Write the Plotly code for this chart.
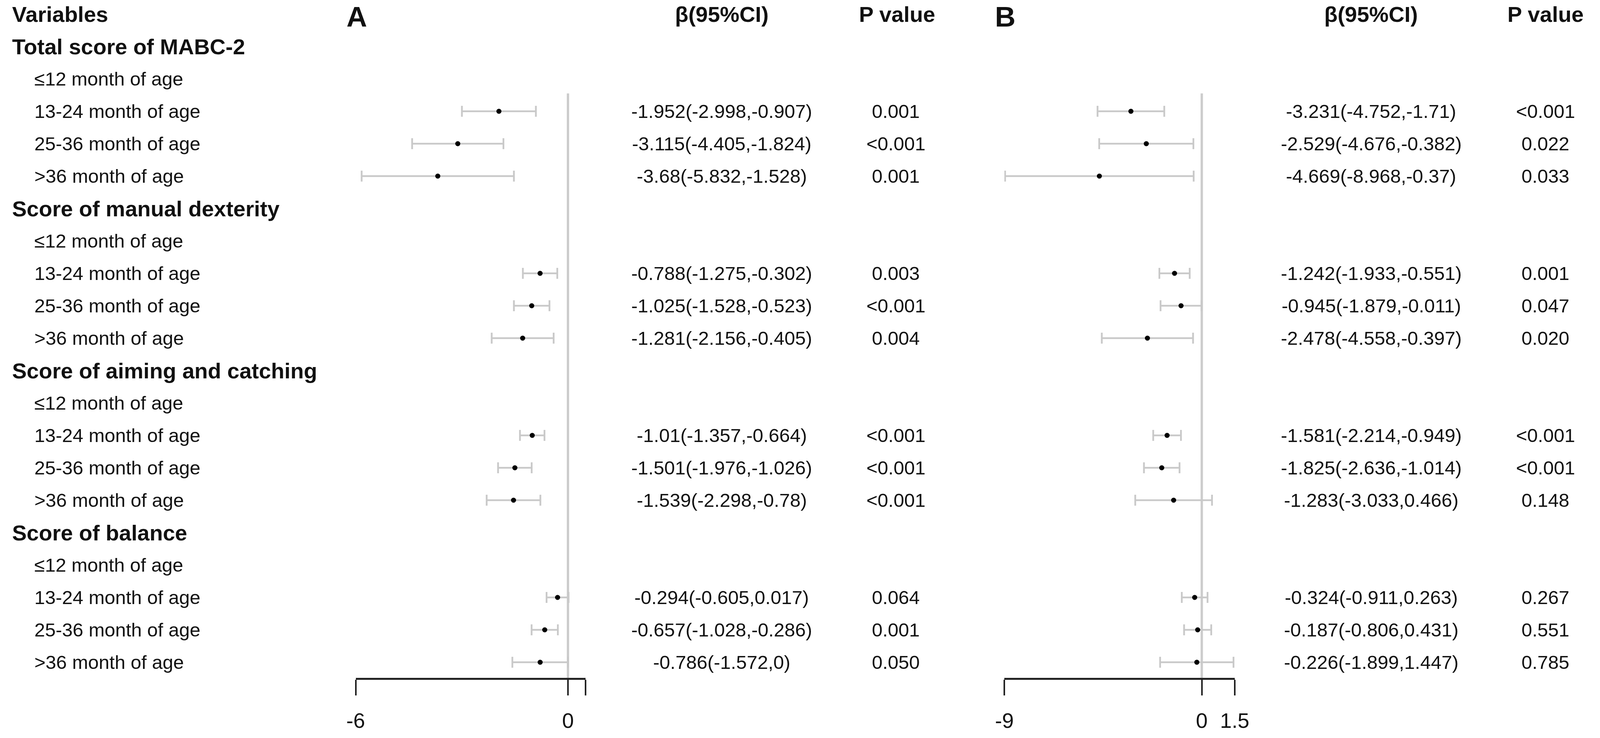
import plotly.graph_objects as go

# rows of the table
groups = ["Total score of MABC-2", "Score of manual dexterity",
          "Score of aiming and catching", "Score of balance"]
ages = ["≤12 month of age", "13-24 month of age", "25-36 month of age", ">36 month of age"]

# panel A (13-24, 25-36, >36 for each group; <=12 is the reference)
beta_a = [-1.952, -3.115, -3.68, -0.788, -1.025, -1.281, -1.01, -1.501, -1.539, -0.294, -0.657, -0.786]
low_a = [-2.998, -4.405, -5.832, -1.275, -1.528, -2.156, -1.357, -1.976, -2.298, -0.605, -1.028, -1.572]
up_a = [-0.907, -1.824, -1.528, -0.302, -0.523, -0.405, -0.664, -1.026, -0.78, 0.017, -0.286, 0]
p_a = ["0.001", "<0.001", "0.001", "0.003", "<0.001", "0.004",
       "<0.001", "<0.001", "<0.001", "0.064", "0.001", "0.050"]

# panel B
beta_b = [-3.231, -2.529, -4.669, -1.242, -0.945, -2.478, -1.581, -1.825, -1.283, -0.324, -0.187, -0.226]
low_b = [-4.752, -4.676, -8.968, -1.933, -1.879, -4.558, -2.214, -2.636, -3.033, -0.911, -0.806, -1.899]
up_b = [-1.71, -0.382, -0.37, -0.551, -0.011, -0.397, -0.949, -1.014, 0.466, 0.263, 0.431, 1.447]
p_b = ["<0.001", "0.022", "0.033", "0.001", "0.047", "0.020",
       "<0.001", "<0.001", "0.148", "0.267", "0.551", "0.785"]

ticks_a = [-6, 0, 0.5]
ticklabels_a = ["-6", "0", ""]
ticks_b = [-9, 0, 1.5]
ticklabels_b = ["-9", "0", "1.5"]

# the browser caps the page at 4096 px wide, so lay out on a 4550 grid
# horizontally (as paper fractions) and shrink the fixed pixel sizes a bit
REF_W = 4550
W, H = 4096, 1890
K = 0.93
ROW0, ROWH = 36, 83  # pixel centre of header row, row height
FONT = "Arial, Liberation Sans, sans-serif"

# row index of each data point
data_rows = []
for g in range(len(groups)):
    for j in range(1, 4):
        data_rows.append(2 + 5 * g + j)


def px(x):
    return x / REF_W


def ci_text(b, lo, hi):
    return f"{b:g}({lo:g},{hi:g})"


fig = go.Figure()

for beta, low, up, xa in [(beta_a, low_a, up_a, "x"), (beta_b, low_b, up_b, "x2")]:
    fig.add_trace(go.Scatter(
        x=beta, y=data_rows, xaxis=xa, yaxis="y",
        mode="markers",
        marker=dict(color="black", size=13),
        error_x=dict(type="data", symmetric=False,
                     array=[u - b for u, b in zip(up, beta)],
                     arrayminus=[b - l for b, l in zip(beta, low)],
                     color="#c9c9c9", thickness=4.5, width=14),
        showlegend=False, hoverinfo="skip",
    ))

# reference line at zero
for xr in ["x", "x2"]:
    fig.add_shape(type="line", xref=xr, yref="y", x0=0, x1=0, y0=2.45, y1=20.5,
                  line=dict(color="#cccccc", width=6), layer="below")

ann = []


def text(x, row, s, size=53, bold=False, anchor="center"):
    if bold:
        s = f"<b>{s}</b>"
    ann.append(dict(x=px(x), y=row, xref="paper", yref="y", text=s, showarrow=False,
                    xanchor=anchor, yanchor="middle",
                    font=dict(family=FONT, size=round(size * K), color="#111")))


# left column
text(6, 0, "Variables", size=60, bold=True, anchor="left")
for g, name in enumerate(groups):
    r = 1 + 5 * g
    text(6, r, name, size=60, bold=True, anchor="left")
    for j, a in enumerate(ages):
        text(70, r + 1 + j, a, anchor="left")

# panel headers
text(971, 0.08, "A", size=78, bold=True, anchor="left")
text(2844, 0.08, "B", size=78, bold=True, anchor="left")
text(2057, 0, "β(95%CI)", size=60, bold=True)
text(2563, 0, "P value", size=60, bold=True)
text(3932, 0, "β(95%CI)", size=60, bold=True)
text(4436, 0, "P value", size=60, bold=True)

for i, r in enumerate(data_rows):
    text(2057, r, ci_text(beta_a[i], low_a[i], up_a[i]))
    text(2560, r, p_a[i])
    text(3932, r, ci_text(beta_b[i], low_b[i], up_b[i]))
    text(4436, r, p_b[i])

axis_pos = 1 - 1738 / H
axis_style = dict(anchor="free", position=axis_pos, showgrid=False, zeroline=False,
                  showline=True, linecolor="#222", linewidth=5,
                  ticks="outside", ticklen=40, tickwidth=4, tickcolor="#222",
                  tickfont=dict(family=FONT, size=round(58 * K), color="#111"),
                  ticklabelstandoff=18, fixedrange=True)

fig.update_layout(
    width=W, height=H,
    margin=dict(l=0, r=0, t=0, b=0),
    paper_bgcolor="white", plot_bgcolor="white",
    xaxis=dict(domain=[px(1000), px(1664)], range=[-6, 0.5],
               tickvals=ticks_a, ticktext=ticklabels_a, **axis_style),
    xaxis2=dict(domain=[px(2873), px(3538)], range=[-9, 1.5],
                tickvals=ticks_b, ticktext=ticklabels_b, **axis_style),
    yaxis=dict(range=[(H - ROW0) / ROWH, -ROW0 / ROWH], visible=False, fixedrange=True),
    annotations=ann,
)

# drop the default 8px page margin so the figure sits flush in the window
fig.write_html("out.html", config={"displayModeBar": False},
               post_script="document.body.style.margin = '0px';")
